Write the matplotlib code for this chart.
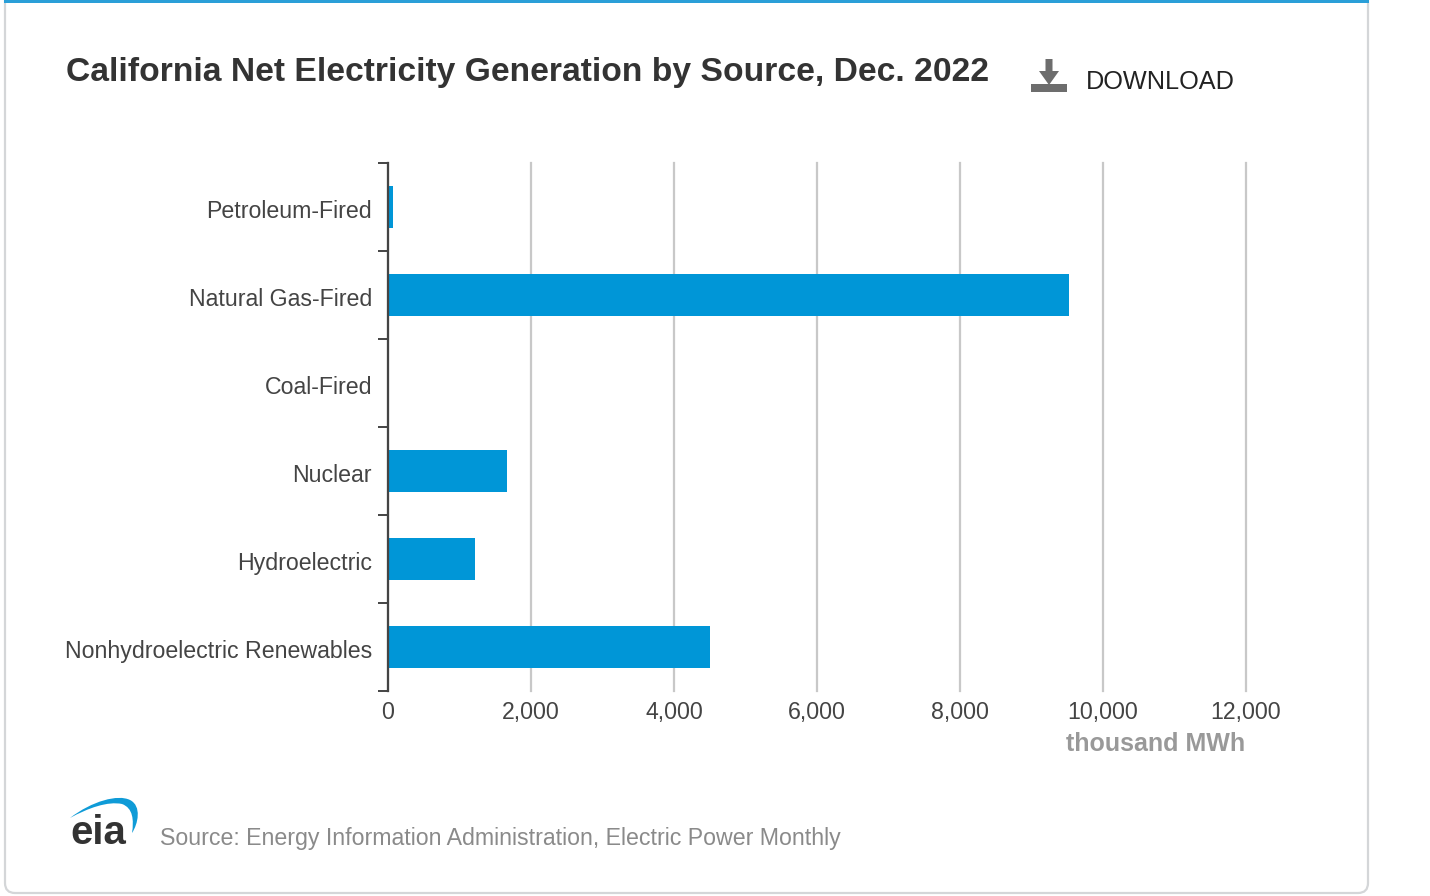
import matplotlib
matplotlib.use("Agg")
import matplotlib.pyplot as plt
from matplotlib.patches import FancyBboxPatch, PathPatch, Polygon, Rectangle
from matplotlib.path import Path

plt.rcParams["font.family"] = ["Liberation Sans", "DejaVu Sans"]

sources = ["Petroleum-Fired", "Natural Gas-Fired", "Coal-Fired", "Nuclear",
           "Hydroelectric", "Nonhydroelectric Renewables"]
generation = [70, 9530, 3, 1660, 1215, 4505]
x_ticks = [0, 2000, 4000, 6000, 8000, 10000, 12000]
x_labels = ["0", "2,000", "4,000", "6,000", "8,000", "10,000", "12,000"]

W, H = 1430, 896
BLUE = "#0096d7"

fig = plt.figure(figsize=(W / 100, H / 100), dpi=100, facecolor="white")

# page furniture, drawn in pixel coords
bg = fig.add_axes([0, 0, 1, 1])
bg.set_xlim(0, W)
bg.set_ylim(H, 0)
bg.axis("off")
bg.add_patch(FancyBboxPatch((5, -20), 1363, 913, boxstyle="round,pad=0,rounding_size=10",
                            fc="white", ec="#d4d6d8", lw=1.6))
bg.add_patch(Rectangle((4, 0), 1365, 3, fc="#2a9fd8", ec="none"))

bg.text(66, 72, "California Net Electricity Generation by Source, Dec. 2022",
        fontsize=24.25, fontweight="bold", color="#333333", va="center", ha="left")

# download icon
icon = "#6d6d6d"
bg.add_patch(Polygon([(1045.5, 59), (1052.5, 59), (1052.5, 71), (1059, 71), (1049, 85),
                      (1039, 71), (1045.5, 71)], fc=icon, ec="none"))
bg.add_patch(Rectangle((1031, 84.5), 36, 8, fc=icon, ec="none"))
bg.text(1086, 82, "DOWNLOAD", fontsize=18.2, color="#222222", va="center", ha="left")

# chart
left, right, top, bottom = 388, 1246, 162.5, 690.5
ax = fig.add_axes([left / W, 1 - bottom / H, (right - left) / W, (bottom - top) / H])
ax.patch.set_alpha(0)
ax.set_xlim(0, 12000)
ax.set_ylim(len(sources) - 0.5, -0.5)
ax.barh(range(len(sources)), generation, height=42 / 88, color=BLUE, zorder=3)

ax.set_xticks(x_ticks)
ax.set_xticklabels(x_labels, fontsize=16.65, color="#444444")
ax.tick_params(axis="x", length=0, pad=7.5)
ax.set_yticks([i - 0.5 for i in range(len(sources) + 1)])
ax.set_yticklabels([])
ax.tick_params(axis="y", length=7.5, width=1.4, color="#444444")
ax.grid(axis="x", color="#c8c8c8", lw=1.6, zorder=1)
for line in ax.get_xgridlines():
    line.set_clip_on(False)
for s in ["top", "right", "bottom"]:
    ax.spines[s].set_visible(False)
ax.spines["left"].set_color("#444444")
ax.spines["left"].set_linewidth(1.6)
ax.spines["left"].set_zorder(4)

for i, name in enumerate(sources):
    ax.annotate(name, (0, i), xytext=(-11.5, -3.9), textcoords="offset points",
                ha="right", va="center", fontsize=16.65, color="#444444")

bg.text(1245, 744, "thousand MWh", fontsize=18, fontweight="bold", color="#999999",
        va="center", ha="right")

# footer: logo and source
swoosh = Path([(70, 818), (92, 801), (118, 794), (130, 800), (142, 806), (138, 824), (132, 833),
               (134, 820), (133, 808), (122, 804), (108, 801), (88, 808), (70, 818)],
              [Path.MOVETO, Path.CURVE4, Path.CURVE4, Path.CURVE4, Path.CURVE4, Path.CURVE4, Path.CURVE4,
               Path.CURVE4, Path.CURVE4, Path.CURVE4, Path.CURVE4, Path.CURVE4, Path.CURVE4])
bg.add_patch(PathPatch(swoosh, fc="#0f9bd7", ec="none"))
bg.text(98.5, 833, "eia", fontsize=29, fontweight="bold", color="#333333", va="center", ha="center")
bg.text(160, 839, "Source: Energy Information Administration, Electric Power Monthly",
        fontsize=16.65, color="#8a8a8a", va="center", ha="left")

fig.savefig("out.png", dpi=100)
